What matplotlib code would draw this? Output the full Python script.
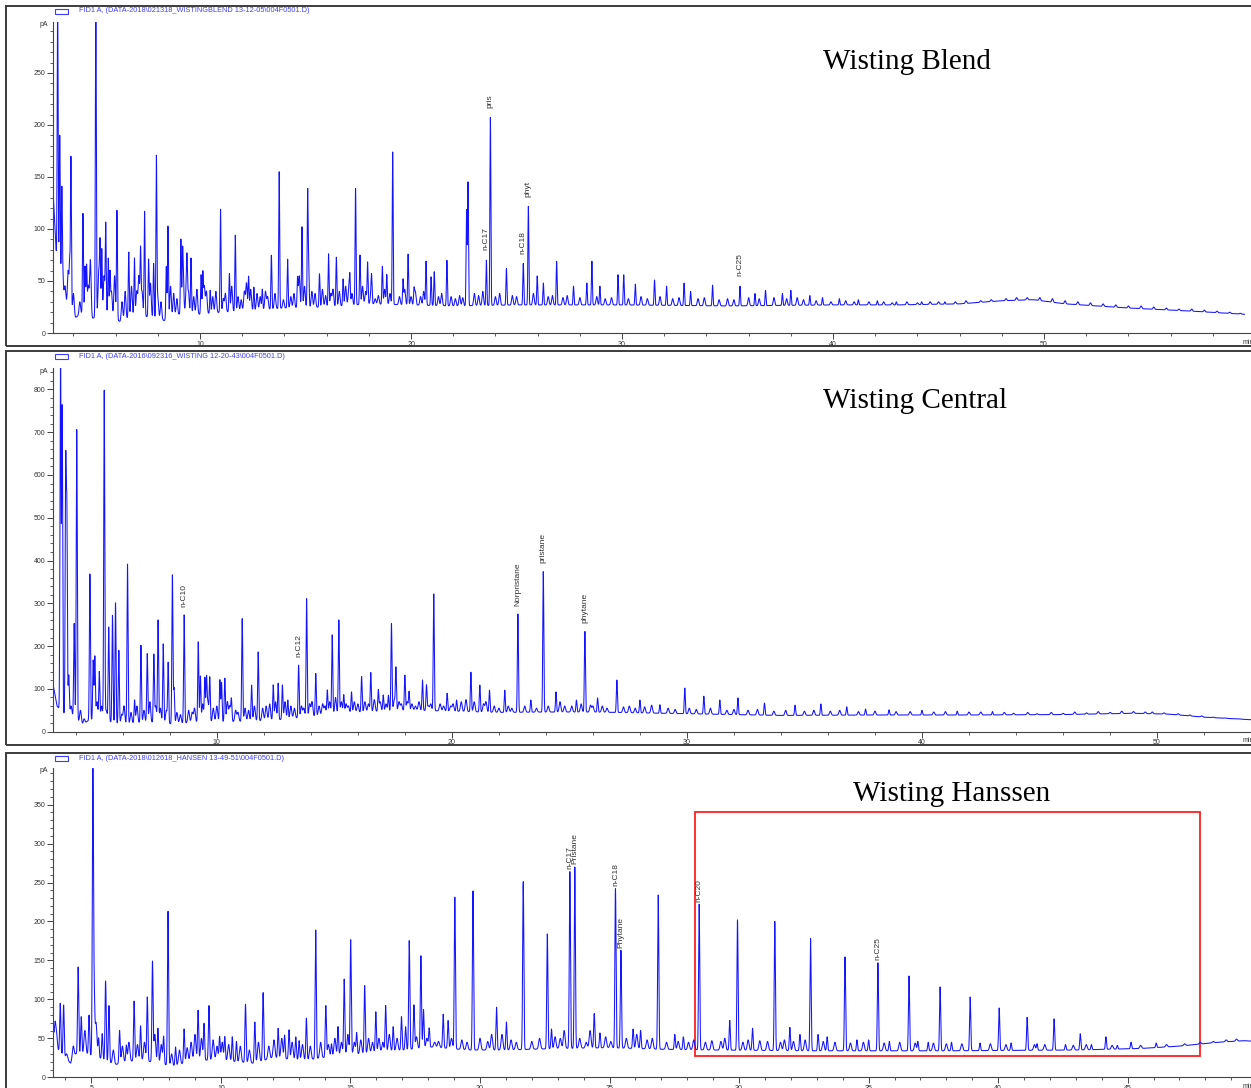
import numpy as np
import matplotlib.pyplot as plt
from matplotlib.patches import Rectangle
from matplotlib.ticker import MultipleLocator

W, H = 1251, 1088

# ---------------- Wisting Blend ----------------
blend_file = "FID1 A, (DATA-2018\\021318_WISTINGBLEND 13-12-05\\004F0501.D)"
blend_base_t = [3.0, 3.2, 3.6, 4.1, 4.5, 4.9, 5.5, 6.2, 7.0, 8.3, 9.0, 10.0, 11.0, 12.0, 14.0, 16.0, 18.0,
                20.0, 22.0, 25.0, 30.0, 35.0, 40.0, 43.0, 46.0, 48.0, 49.5, 51.0, 54.0, 57.0, 59.5]
blend_base_v = [150, 70, 30, 15, 20, 14, 20, 11, 18, 12, 18, 18, 20, 21, 24, 25, 28,
                27, 26, 27, 27, 26, 27, 27, 28, 31, 32, 28, 24, 21, 18]
blend_pk_t = [3.25, 3.35, 3.45, 3.50, 3.82, 3.88, 4.45, 4.55, 4.62, 5.06, 5.26, 5.34, 5.53, 5.65, 5.73, 6.06,
              6.62, 6.89, 7.18, 7.37, 7.56, 7.80, 7.93, 8.40, 8.48, 9.09, 9.17, 9.38, 9.57, 10.05, 10.13,
              10.48, 10.97, 11.39, 11.67, 12.30, 12.55, 12.95, 13.38, 13.75, 14.15, 14.62, 14.83, 15.10,
              15.15, 15.66, 16.09, 16.46, 16.78, 17.10, 17.37, 17.58, 17.94, 18.13, 18.64, 18.85, 19.13,
              19.62, 19.86, 20.14, 20.71, 20.95, 21.10, 21.70, 22.63, 22.70, 23.57, 23.76, 24.52, 25.32,
              25.56, 25.98, 26.27, 26.90, 27.70, 28.33, 28.57, 28.95, 29.81, 30.08, 30.63, 31.54, 32.11,
              32.94, 33.25, 34.29, 35.59, 36.30, 36.80, 37.60, 38.00, 38.90, 39.50, 40.30, 41.20, 42.10,
              43.00, 44.20, 45.30]
blend_pk_h = [320, 190, 140, 55, 67, 169, 115, 64, 64, 320, 81, 81, 104, 72, 57, 118,
              78, 72, 78, 117, 70, 67, 168, 64, 103, 90, 60, 55, 72, 56, 56,
              41, 119, 57, 94, 54, 44, 42, 75, 155, 71, 52, 102, 136,
              62, 57, 76, 73, 52, 52, 139, 75, 68, 50, 64, 56, 174,
              51, 76, 41, 69, 54, 59, 70, 118, 145, 70, 208, 62, 67,
              122, 55, 48, 69, 45, 48, 69, 45, 56, 56, 47, 51, 45,
              48, 40, 46, 45, 38, 41, 38, 41, 36, 34, 33, 32, 31,
              30, 30, 30]
blend_grass_t = [3.6, 3.75, 4.0, 4.3, 4.7, 4.8, 5.2, 5.45, 5.8, 5.95, 6.3, 6.45, 6.75, 7.0, 7.1, 7.25, 7.65,
                 8.0, 8.15, 8.6, 8.75, 8.9, 9.2, 9.35, 9.45, 9.7, 9.85, 10.2, 10.3, 10.6, 10.75, 11.1, 11.2,
                 11.5, 11.8, 11.95, 12.1, 12.2, 12.4, 12.7, 12.85, 13.1, 13.2, 13.55, 13.95, 14.3, 14.45,
                 14.7, 14.95, 15.3, 15.45, 15.8, 15.95, 16.2, 16.3, 16.6, 16.9, 17.05, 17.2, 17.7, 17.85,
                 18.1, 18.3, 18.45, 18.75, 19.0, 19.45, 19.7, 20.0, 20.2, 20.45, 20.6, 21.3, 21.45, 21.9,
                 22.1, 22.3, 22.45, 23.0, 23.2, 23.4, 24.0, 24.2, 24.8, 25.0, 25.8, 26.5, 26.7, 27.2, 27.4,
                 28.0, 28.8, 29.2, 29.5, 30.3, 30.9, 31.2, 31.8, 32.4, 32.7, 33.6, 33.9, 34.6, 35.0, 35.3,
                 36.0, 36.5, 37.2, 37.8, 38.3, 38.6, 39.2, 39.9, 40.6, 41.0, 41.7, 42.4, 42.8, 43.5, 44.0,
                 44.6, 45.0, 45.8, 46.3, 47.0, 47.5, 48.2, 48.7, 49.2, 49.8, 50.4, 51.0, 51.6, 52.2, 52.8,
                 53.4, 54.0, 54.6, 55.2, 55.8, 56.4, 57.0, 57.6, 58.2, 58.8, 59.3]
blend_grass_h = [45, 60, 38, 30, 45, 70, 60, 55, 40, 55, 30, 40, 45, 40, 55, 40, 48,
                 35, 30, 45, 38, 33, 50, 45, 40, 35, 42, 45, 40, 35, 40, 33, 38,
                 45, 35, 32, 40, 48, 42, 38, 35, 40, 35, 38, 32, 35, 38,
                 55, 45, 40, 38, 42, 36, 38, 42, 40, 45, 42, 38, 45, 40,
                 38, 33, 36, 42, 38, 35, 42, 35, 40, 35, 40, 35, 38, 35,
                 33, 36, 34, 38, 36, 40, 35, 38, 36, 35, 38, 35, 36, 34, 36,
                 34, 35, 33, 34, 33, 35, 33, 35, 33, 34, 33, 34, 32, 33, 32,
                 34, 33, 34, 33, 34, 32, 31, 30, 31, 30, 30, 30, 29, 30, 29,
                 30, 30, 30, 31, 31, 32, 33, 34, 34, 34, 33, 31, 30, 29, 28,
                 27, 26, 26, 25, 24, 23, 23, 22, 21, 20, 19]
blend_labels = [(23.57, "n-C17"), (23.76, "pris"), (25.32, "n-C18"), (25.56, "phyt"), (35.59, "n-C25")]

# ---------------- Wisting Central ----------------
central_file = "FID1 A, (DATA-2016\\092316_WISTING 12-20-43\\004F0501.D)"
central_base_t = [3.0, 3.2, 3.5, 3.75, 4.3, 4.5, 5.0, 5.9, 6.5, 7.0, 8.2, 9.0, 10.0, 11.0, 12.4, 14.0, 15.2,
                  17.0, 18.5, 20.0, 22.0, 24.0, 26.0, 28.0, 30.0, 34.0, 38.0, 42.0, 46.0, 49.0, 50.5, 52.0,
                  54.0]
central_base_v = [120, 60, 40, 40, 16, 25, 30, 16, 20, 22, 18, 22, 23, 24, 27, 35, 43,
                  48, 50, 48, 45, 46, 46, 44, 42, 38, 39, 39, 40, 43, 41, 34,
                  28]
central_pk_t = [3.35, 3.42, 3.57, 3.62, 3.70, 3.93, 4.04, 4.60, 4.74, 4.81, 5.00, 5.21, 5.40, 5.56, 5.69,
                5.83, 6.20, 6.50, 6.77, 7.04, 7.32, 7.50, 7.72, 7.93, 8.11, 8.18, 8.61, 9.21, 9.30, 9.49,
                9.56, 9.70, 10.13, 10.20, 10.34, 10.62, 11.08, 11.48, 11.76, 12.40, 12.61, 12.79, 13.02,
                13.48, 13.82, 14.21, 14.70, 14.91, 15.19, 15.40, 15.73, 16.16, 16.55, 16.87, 17.08, 17.30,
                17.43, 17.62, 18.00, 18.18, 18.75, 18.92, 19.23, 19.80, 20.20, 20.81, 21.19, 21.60, 22.25,
                22.81, 23.36, 23.89, 24.43, 25.30, 25.66, 26.20, 27.02, 28.00, 28.85, 29.91, 30.72, 31.40,
                32.17, 33.30, 34.60, 35.70, 36.80, 37.60, 38.60, 40.00, 41.50, 43.00]
central_pk_h = [900, 760, 615, 502, 132, 253, 709, 370, 167, 175, 140, 797, 245, 273, 301,
                190, 393, 74, 202, 183, 179, 261, 206, 160, 366, 101, 273, 210, 130, 125,
                120, 125, 121, 115, 125, 74, 265, 109, 187, 109, 113, 109, 74,
                156, 312, 136, 97, 226, 261, 86, 93, 129, 138, 97, 86, 85,
                253, 148, 132, 93, 121, 109, 322, 90, 74, 139, 109, 97, 97,
                275, 74, 374, 93, 74, 235, 79, 121, 74, 63, 102, 83, 74,
                79, 67, 62, 65, 58, 53, 51, 50, 48, 47]
central_grass_t = [3.8, 4.2, 4.35, 4.9, 5.1, 5.3, 5.95, 6.05, 6.35, 6.6, 6.9, 7.15, 7.4, 7.6, 7.85, 8.3, 8.45,
                   8.8, 8.95, 9.05, 9.4, 9.62, 9.85, 10.0, 10.45, 10.55, 10.8, 10.9, 11.2, 11.35, 11.6,
                   11.95, 12.1, 12.25, 12.5, 12.9, 13.15, 13.3, 13.6, 13.7, 13.95, 14.05, 14.35, 14.5, 14.6,
                   14.8, 15.05, 15.3, 15.5, 15.6, 15.85, 16.0, 16.3, 16.45, 16.7, 16.95, 17.2, 17.55, 17.75,
                   17.85, 18.1, 18.3, 18.45, 18.6, 19.0, 19.1, 19.5, 19.65, 19.95, 20.05, 20.4, 20.6, 20.95,
                   21.35, 21.45, 21.8, 22.0, 22.4, 22.55, 23.1, 23.6, 24.1, 24.6, 24.8, 25.1, 25.5, 25.9,
                   26.0, 26.4, 26.6, 27.3, 27.55, 27.8, 28.2, 28.5, 29.2, 29.5, 30.1, 30.4, 31.0, 31.7, 32.0,
                   32.6, 33.0, 33.7, 34.2, 35.0, 35.4, 36.1, 36.5, 37.3, 38.0, 38.9, 39.5, 40.5, 41.0, 42.0,
                   42.5, 43.5, 43.9, 44.5, 44.9, 45.5, 46.0, 46.5, 47.0, 47.5, 48.0, 48.5, 49.0, 49.5, 49.8,
                   50.3, 50.9, 51.4, 51.9, 52.4, 52.9, 53.5]
central_grass_h = [60, 50, 30, 70, 60, 50, 40, 60, 45, 60, 50, 70, 60, 55, 50, 45, 40,
                   50, 45, 55, 65, 70, 55, 60, 70, 60, 50, 45, 55, 50, 60,
                   55, 60, 65, 70, 70, 60, 55, 60, 55, 65, 70, 60, 65, 60,
                   70, 80, 70, 65, 60, 70, 65, 70, 65, 75, 70, 65, 75, 70,
                   65, 70, 65, 60, 70, 60, 65, 65, 60, 60, 65, 70, 75, 70,
                   65, 70, 60, 55, 60, 55, 60, 55, 60, 70, 60, 60, 65, 62,
                   60, 60, 55, 58, 60, 55, 58, 62, 55, 52, 55, 52, 55, 50, 52,
                   50, 52, 48, 50, 48, 50, 48, 50, 47, 48, 47, 47, 46, 47, 46,
                   46, 45, 43, 45, 42, 45, 43, 46, 44, 47, 45, 48, 47, 46, 46,
                   44, 42, 39, 37, 34, 32, 30]
central_labels = [(8.61, "n-C10"), (13.48, "n-C12"), (22.81, "Norpristane"), (23.89, "pristane"),
                  (25.66, "phytane")]

# ---------------- Wisting Hanssen ----------------
hanssen_file = "FID1 A, (DATA-2018\\012618_HANSEN 13-49-51\\004F0501.D)"
hanssen_base_t = [3.5, 3.7, 4.2, 4.4, 4.8, 5.3, 5.9, 6.3, 7.0, 8.15, 9.0, 10.0, 11.24, 12.0, 13.3, 14.5,
                  15.9, 17.0, 18.2, 19.5, 21.0, 23.0, 25.0, 27.0, 29.0, 33.0, 38.0, 43.0, 45.5, 47.0, 48.5,
                  49.5, 50.0]
hanssen_base_v = [60, 35, 18, 30, 30, 25, 16, 20, 22, 14, 22, 22, 18, 25, 22, 28,
                  31, 35, 39, 35, 35, 37, 38, 36, 35, 34, 34, 35, 37, 40, 45,
                  47, 46]
hanssen_pk_t = [3.52, 3.60, 3.80, 3.93, 4.49, 4.61, 4.91, 5.06, 5.11, 5.28, 5.42, 5.55, 5.68, 6.09, 6.35,
                6.65, 6.90, 7.16, 7.36, 7.57, 7.79, 7.96, 8.25, 8.58, 9.12, 9.35, 9.54, 9.95, 10.15, 10.44,
                10.60, 10.95, 11.31, 11.63, 12.21, 12.46, 12.63, 12.89, 13.02, 13.30, 13.66, 14.05, 14.27,
                14.52, 14.76, 15.01, 15.24, 15.55, 15.98, 16.36, 16.65, 16.97, 17.13, 17.27, 17.45, 17.72,
                17.82, 18.04, 18.58, 18.77, 19.03, 19.73, 20.64, 21.02, 21.67, 22.60, 22.76, 23.47, 23.66,
                24.41, 24.63, 25.23, 25.44, 25.91, 26.20, 26.88, 27.52, 27.85, 28.46, 29.64, 29.94, 30.52,
                31.38, 31.96, 32.35, 32.76, 33.05, 33.40, 34.09, 34.55, 35.00, 35.36, 35.80, 36.56, 36.90,
                37.30, 37.76, 38.20, 38.92, 39.30, 40.04, 40.50, 41.12, 41.50, 42.16, 42.60, 43.17, 43.60,
                44.16, 44.60, 45.13, 46.10]
hanssen_pk_h = [65, 65, 95, 93, 142, 78, 80, 391, 99, 50, 56, 124, 92, 60, 41,
                98, 66, 103, 148, 63, 52, 213, 39, 62, 86, 69, 92, 52, 52, 52,
                46, 94, 71, 109, 63, 54, 61, 52, 47, 76, 189, 92, 43,
                65, 126, 177, 57, 118, 84, 92, 65, 78, 65, 176, 93, 156,
                87, 63, 81, 73, 232, 240, 90, 71, 252, 184, 62, 265, 270,
                82, 57, 243, 163, 62, 60, 234, 55, 52, 222, 73, 202, 63,
                200, 64, 55, 178, 55, 52, 155, 48, 48, 147, 46, 130, 46,
                45, 116, 45, 103, 44, 89, 44, 77, 43, 75, 42, 56, 42,
                52, 41, 45, 44]
hanssen_grass_t = [3.65, 4.05, 4.3, 4.75, 5.18, 5.85, 6.2, 6.45, 6.78, 7.05, 7.45, 7.7, 8.1, 8.4, 8.7, 8.85,
                   9.0, 9.25, 9.7, 9.85, 10.05, 10.3, 10.75, 11.1, 11.45, 11.85, 12.05, 12.35, 12.75, 13.15,
                   13.45, 13.85, 14.15, 14.4, 14.65, 14.9, 15.15, 15.4, 15.7, 15.85, 16.1, 16.25, 16.5, 16.8,
                   17.55, 17.95, 18.25, 18.4, 18.9, 19.3, 19.5, 20.0, 20.3, 20.45, 20.85, 21.2, 21.4, 22.0,
                   22.3, 22.9, 23.1, 23.25, 23.85, 24.1, 24.25, 24.85, 25.05, 25.65, 26.05, 26.45, 26.65,
                   27.2, 27.65, 28.05, 28.25, 28.7, 28.95, 29.3, 29.45, 30.15, 30.35, 30.8, 31.1, 31.6, 31.75,
                   32.1, 32.55, 33.25, 33.7, 34.3, 34.8, 35.6, 36.2, 36.8, 37.5, 38.0, 38.6, 39.7, 40.3, 41.4,
                   41.8, 42.9, 43.4, 44.4, 45.5, 46.5, 47.2, 47.8, 48.3, 48.8, 49.2]
hanssen_grass_h = [60, 30, 40, 60, 70, 35, 40, 45, 42, 45, 55, 42, 30, 35, 38, 45,
                   55, 50, 48, 40, 45, 42, 40, 35, 45, 40, 48, 50, 45, 42,
                   40, 45, 42, 50, 45, 55, 45, 48, 50, 45, 50, 45, 55, 50,
                   52, 50, 45, 46, 50, 48, 45, 50, 46, 55, 55, 48, 45, 46,
                   50, 52, 50, 60, 50, 45, 60, 52, 46, 50, 55, 48, 50,
                   45, 46, 45, 48, 45, 47, 46, 50, 45, 48, 47, 46, 45, 48,
                   46, 48, 46, 45, 44, 45, 44, 45, 44, 44, 43, 43, 43, 42, 42,
                   42, 41, 42, 41, 41, 42, 43, 45, 46, 48, 49]
hanssen_labels = [(23.47, "n-C17"), (23.66, "Pristane"), (25.23, "n-C18"), (25.44, "Phytane"),
                  (28.46, "n-C20"), (35.36, "n-C25")]
hanssen_box = (28.29, 27.3, 47.79, 340.6)   # t0, y0, t1, y1 of the highlighted region


def build_trace(t, base_t, base_v, pk_t, pk_h, grass_t, grass_h):
    y = np.interp(t, base_t, base_v)
    for t0, h in zip(grass_t, grass_h):
        amp = h - np.interp(t0, base_t, base_v)
        y = y + max(amp, 0) * np.exp(-0.5 * ((t - t0) / 0.035) ** 2)
    for t0, h in zip(pk_t, pk_h):
        amp = h - np.interp(t0, base_t, base_v)
        y = y + max(amp, 0) * np.exp(-0.5 * ((t - t0) / 0.022) ** 2)
    return y


def fx(px):
    return px / W


def fy(py):
    return 1 - py / H


fig = plt.figure(figsize=(W / 100, H / 100), dpi=100)
plt.rcParams['font.family'] = ['Liberation Sans', 'DejaVu Sans']

panels = [
    dict(frame=(6, 346), ax=(22, 333), xlim=(3.03, 59.81), ylim=(0, 299), xt=(10, 2), yt=(50, 10),
         t_end=59.5, base=(blend_base_t, blend_base_v), pk=(blend_pk_t, blend_pk_h),
         grass=(blend_grass_t, blend_grass_h), labels=blend_labels, lab_off=7, file=blend_file,
         title="Wisting Blend", title_xy=(823, 62)),
    dict(frame=(351, 745), ax=(368, 731.7), xlim=(3.03, 54.0), ylim=(0, 850), xt=(10, 2), yt=(100, 20),
         t_end=54.0, base=(central_base_t, central_base_v), pk=(central_pk_t, central_pk_h),
         grass=(central_grass_t, central_grass_h), labels=central_labels, lab_off=6, file=central_file,
         title="Wisting Central", title_xy=(823, 401)),
    dict(frame=(753, 1095), ax=(768, 1077.3), xlim=(3.52, 49.76), ylim=(0, 397), xt=(5, 1), yt=(50, 10),
         t_end=49.76, base=(hanssen_base_t, hanssen_base_v), pk=(hanssen_pk_t, hanssen_pk_h),
         grass=(hanssen_grass_t, hanssen_grass_h), labels=hanssen_labels, lab_off=2, file=hanssen_file,
         title="Wisting Hanssen", title_xy=(853, 794)),
]

for i, p in enumerate(panels):
    ftop, fbot = p['frame']
    fig.patches.append(Rectangle((fx(6), fy(fbot)), fx(1260) - fx(6), fy(ftop) - fy(fbot),
                                 transform=fig.transFigure, fill=False, edgecolor='#3c3c3c', lw=1.4))
    atop, abot = p['ax']
    ax = fig.add_axes([fx(53), fy(abot), fx(1251) - fx(53), fy(atop) - fy(abot)])
    t = np.arange(p['xlim'][0], p['t_end'], 0.004)
    y = build_trace(t, *p['base'], *p['pk'], *p['grass'])
    ax.plot(t, y, color='#1414ff', lw=0.75)
    ax.set_xlim(*p['xlim'])
    ax.set_ylim(*p['ylim'])
    for s in ['top', 'right']:
        ax.spines[s].set_visible(False)
    for s in ['left', 'bottom']:
        ax.spines[s].set_color('#444444')
        ax.spines[s].set_linewidth(0.8)
    ax.xaxis.set_major_locator(MultipleLocator(p['xt'][0]))
    ax.xaxis.set_minor_locator(MultipleLocator(p['xt'][1]))
    ax.yaxis.set_major_locator(MultipleLocator(p['yt'][0]))
    ax.yaxis.set_minor_locator(MultipleLocator(p['yt'][1]))
    ax.tick_params(which='major', length=4, width=0.7, color='#444444', labelsize=5,
                   labelcolor='#333333', pad=1.5)
    ax.tick_params(which='minor', length=2, width=0.6, color='#444444')
    ax.patch.set_alpha(0)
    for t0, lab in p['labels']:
        v = np.interp(t0, t, y)
        ax.annotate(lab, (t0, v), xytext=(0, p['lab_off']), textcoords='offset points', rotation=90,
                    ha='center', va='bottom', fontsize=6, color='#333333')
    # header line
    fig.patches.append(Rectangle((fx(55), fy(ftop + 8)), fx(13), 5 / H, transform=fig.transFigure,
                                 fill=False, edgecolor='#3b3bff', lw=0.8))
    fig.text(fx(79), fy(ftop + 5), p['file'], fontsize=5.3, color='#4040ff', va='center', ha='left')
    fig.text(fx(48), fy(atop + 3), 'pA', fontsize=5, color='#333333', va='center', ha='right')
    fig.text(fx(1243), fy(abot + 9), 'min', fontsize=5, color='#333333', va='center', ha='left')
    fig.text(fx(p['title_xy'][0]), fy(p['title_xy'][1]), p['title'], fontsize=21,
             family='Liberation Serif', va='center', ha='left', color='black')
    if i == 2:
        b = hanssen_box
        ax.add_patch(Rectangle((b[0], b[1]), b[2] - b[0], b[3] - b[1], fill=False,
                               edgecolor='#ff2020', lw=1.3, clip_on=False))

fig.savefig('out.png', dpi=100)
